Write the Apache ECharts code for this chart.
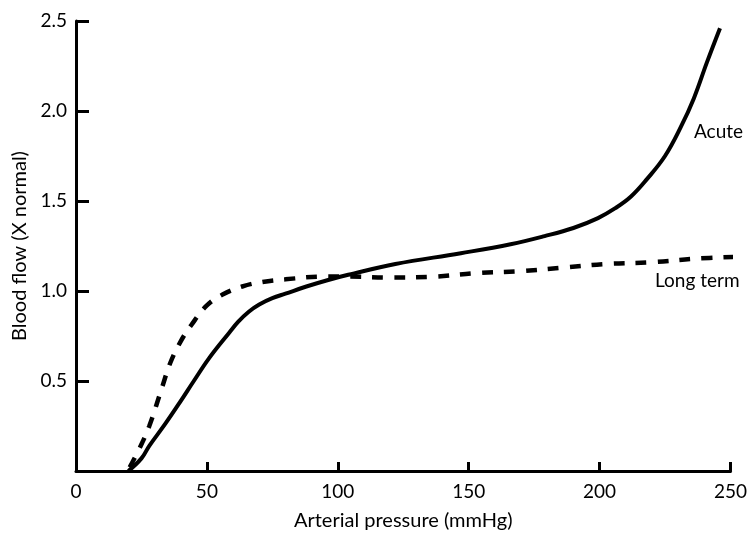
<!DOCTYPE html>
<html>
<head>
<meta charset="utf-8">
<script src="https://cdn.jsdelivr.net/npm/echarts@6/dist/echarts.min.js"></script>
<style>html,body{margin:0;padding:0;background:#fff}#c{width:750px;height:536px}</style>
</head>
<body>
<div id="c"></div>
<script>
var xTicks = [0, 50, 100, 150, 200, 250];
var yTicks = [0, 0.5, 1.0, 1.5, 2.0, 2.5];
var acuteX = [20, 25, 28, 34, 39.6, 45, 51, 58.6, 62, 66, 70, 75, 80, 88, 96, 104, 122, 147, 166, 179, 190, 199.4, 206, 212, 218, 225, 231, 236, 241, 246];
var acuteY = [0, 0.07, 0.14, 0.26, 0.38, 0.50, 0.63, 0.77, 0.83, 0.885, 0.925, 0.96, 0.985, 1.025, 1.06, 1.09, 1.15, 1.21, 1.26, 1.305, 1.35, 1.405, 1.46, 1.525, 1.62, 1.75, 1.91, 2.07, 2.27, 2.46];
var longX = [20.5, 24.4, 28, 33, 36, 40, 44, 50, 56, 63.5, 71, 80, 95, 104, 120, 137, 154, 170, 186, 202, 220, 237, 252];
var longY = [0.02, 0.13, 0.25, 0.47, 0.60, 0.72, 0.81, 0.92, 0.98, 1.025, 1.05, 1.065, 1.08, 1.08, 1.075, 1.08, 1.10, 1.11, 1.13, 1.15, 1.16, 1.18, 1.19];
var seriesNames = ['Acute', 'Long term'];

function pairs(xs, ys) { return xs.map(function (x, i) { return [x, ys[i]]; }); }

var FONT = 'Lato';
var chart = echarts.init(document.getElementById('c'));
chart.setOption({
  animation: false,
  backgroundColor: '#fff',
  grid: { left: 76, right: 17, top: 21, bottom: 64, containLabel: false },
  xAxis: {
    type: 'value', min: 0, max: 250, interval: 50,
    name: 'Arterial pressure (mmHg)', nameLocation: 'middle', nameGap: 40,
    nameTextStyle: { fontFamily: FONT, fontSize: 20, color: '#000' },
    axisLine: { lineStyle: { color: '#000', width: 3 } },
    axisTick: { inside: true, length: 9, lineStyle: { color: '#000', width: 3 } },
    axisLabel: { fontFamily: FONT, fontSize: 19, color: '#000', margin: 11,
      formatter: function (v) { return xTicks.indexOf(v) >= 0 ? String(v) : ''; } },
    splitLine: { show: false }
  },
  yAxis: {
    type: 'value', min: 0, max: 2.5, interval: 0.5,
    name: 'Blood flow (X normal)', nameLocation: 'middle', nameGap: 46,
    nameTextStyle: { fontFamily: FONT, fontSize: 20, color: '#000' },
    axisLine: { lineStyle: { color: '#000', width: 3 } },
    axisTick: { inside: true, length: 13, lineStyle: { color: '#000', width: 3 } },
    axisLabel: { fontFamily: FONT, fontSize: 19, color: '#000', margin: 9, showMinLabel: false,
      formatter: function (v) { return yTicks.indexOf(v) >= 0 ? v.toFixed(1) : ''; } },
    splitLine: { show: false }
  },
  graphic: [
    { type: 'text', left: 694, top: 122, style: { text: seriesNames[0], font: '19px ' + FONT, fill: '#000' } },
    { type: 'text', left: 655, top: 271, style: { text: seriesNames[1], font: '19px ' + FONT, fill: '#000' } }
  ],
  series: [
    { name: seriesNames[0], type: 'line', data: pairs(acuteX, acuteY), smooth: 0.4, showSymbol: false,
      lineStyle: { color: '#000', width: 4 } },
    { name: seriesNames[1], type: 'line', data: pairs(longX, longY), smooth: 0.4, showSymbol: false,
      lineStyle: { color: '#000', width: 4.5, type: [11, 11] } }
  ]
});
</script>
</body>
</html>
